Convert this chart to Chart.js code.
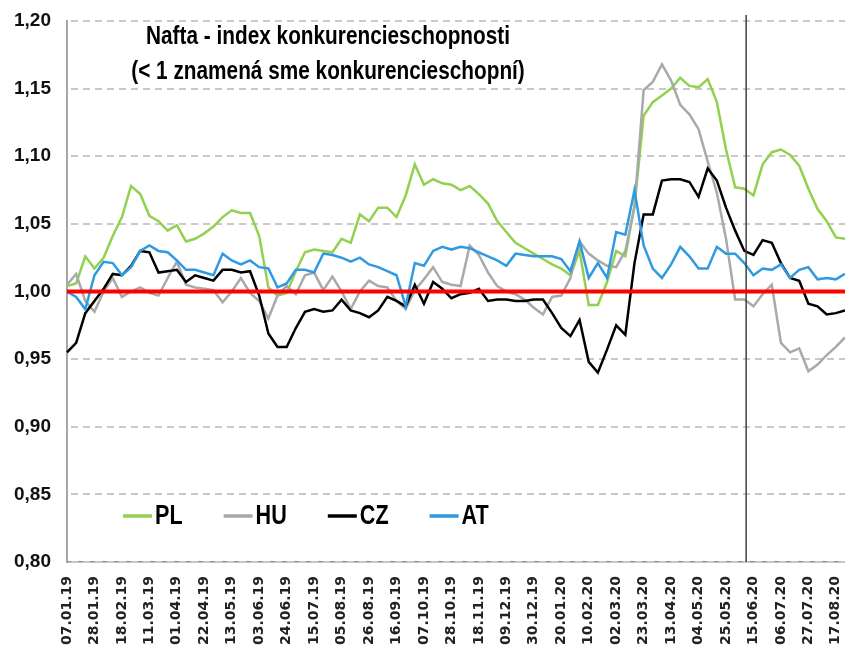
<!DOCTYPE html>
<html>
<head>
<meta charset="utf-8">
<title>Nafta - index konkurencieschopnosti</title>
<script src="https://cdn.jsdelivr.net/npm/chart.js@4.4.0/dist/chart.umd.min.js"></script>
<style>
  html, body { margin: 0; padding: 0; background: #fff; }
  #wrap { width: 845px; height: 649px; position: relative; }
</style>
</head>
<body>
<div id="wrap"><canvas id="myChart"></canvas></div>
<script>
// Weekly dates (every 3rd one is printed on the axis)
const weeks = [
  '07.01.19','14.01.19','21.01.19','28.01.19','04.02.19','11.02.19','18.02.19','25.02.19',
  '04.03.19','11.03.19','18.03.19','25.03.19','01.04.19','08.04.19','15.04.19','22.04.19',
  '29.04.19','06.05.19','13.05.19','20.05.19','27.05.19','03.06.19','10.06.19','17.06.19',
  '24.06.19','01.07.19','08.07.19','15.07.19','22.07.19','29.07.19','05.08.19','12.08.19',
  '19.08.19','26.08.19','02.09.19','09.09.19','16.09.19','23.09.19','30.09.19','07.10.19',
  '14.10.19','21.10.19','28.10.19','04.11.19','11.11.19','18.11.19','25.11.19','02.12.19',
  '09.12.19','16.12.19','23.12.19','30.12.19','06.01.20','13.01.20','20.01.20','27.01.20',
  '03.02.20','10.02.20','17.02.20','24.02.20','02.03.20','09.03.20','16.03.20','23.03.20',
  '30.03.20','06.04.20','13.04.20','20.04.20','27.04.20','04.05.20','11.05.20','18.05.20',
  '25.05.20','01.06.20','08.06.20','15.06.20','22.06.20','29.06.20','06.07.20','13.07.20',
  '20.07.20','27.07.20','03.08.20','10.08.20','17.08.20','24.08.20'
];

const seriesNames = ['PL', 'HU', 'CZ', 'AT'];

const pl = [
  1.004,1.006,1.026,1.017,1.025,1.041,1.055,1.078,1.072,1.056,
  1.052,1.045,1.049,1.037,1.039,1.043,1.048,1.055,1.060,1.058,
  1.058,1.041,1.003,0.997,0.999,1.015,1.029,1.031,1.030,1.029,
  1.039,1.036,1.057,1.052,1.062,1.062,1.055,1.071,1.094,1.079,
  1.083,1.080,1.079,1.075,1.078,1.072,1.065,1.052,1.044,1.036,
  1.032,1.028,1.024,1.020,1.017,1.012,1.030,0.990,0.990,1.007,
  1.030,1.026,1.063,1.130,1.140,1.145,1.150,1.158,1.152,1.151,
  1.157,1.140,1.105,1.077,1.076,1.071,1.094,1.103,1.105,1.101,
  1.093,1.076,1.061,1.052,1.040,1.039
];

const hu = [
  1.005,1.013,0.993,0.985,1.000,1.010,0.996,1.000,1.003,0.999,
  0.997,1.010,1.022,1.005,1.003,1.002,1.001,0.992,1.000,1.010,
  0.999,0.993,0.980,0.997,1.004,0.998,1.012,1.014,1.001,1.011,
  1.000,0.987,1.000,1.008,1.004,1.003,0.993,0.987,1.001,1.009,
  1.018,1.007,1.005,1.004,1.034,1.027,1.014,1.004,1.000,0.998,
  0.994,0.988,0.983,0.996,0.997,1.010,1.037,1.028,1.023,1.019,
  1.018,1.030,1.063,1.149,1.155,1.168,1.156,1.138,1.131,1.120,
  1.096,1.073,1.039,0.994,0.994,0.989,0.998,1.005,0.962,0.955,
  0.958,0.941,0.946,0.953,0.959,0.966
];

const cz = [
  0.955,0.962,0.984,0.993,1.002,1.013,1.012,1.019,1.030,1.029,
  1.014,1.015,1.016,1.007,1.012,1.010,1.008,1.016,1.016,1.014,
  1.015,0.997,0.969,0.959,0.959,0.973,0.985,0.987,0.985,0.986,
  0.994,0.986,0.984,0.981,0.986,0.996,0.993,0.989,1.005,0.991,
  1.007,1.002,0.995,0.998,0.999,1.002,0.993,0.994,0.994,0.993,
  0.993,0.994,0.994,0.984,0.973,0.967,0.979,0.948,0.940,0.957,
  0.975,0.968,1.021,1.057,1.057,1.082,1.083,1.083,1.081,1.070,
  1.091,1.082,1.062,1.045,1.030,1.027,1.038,1.036,1.021,1.010,
  1.008,0.991,0.989,0.983,0.984,0.986
];

const at = [
  1.000,0.996,0.987,1.012,1.022,1.021,1.012,1.018,1.030,1.034,
  1.030,1.029,1.023,1.016,1.016,1.014,1.012,1.028,1.023,1.020,
  1.023,1.018,1.017,1.003,1.006,1.016,1.016,1.014,1.028,1.027,
  1.025,1.022,1.025,1.020,1.018,1.015,1.012,0.989,1.021,1.019,
  1.030,1.033,1.031,1.033,1.032,1.029,1.026,1.023,1.019,1.028,
  1.027,1.026,1.026,1.026,1.024,1.015,1.037,1.010,1.021,1.010,
  1.044,1.042,1.075,1.034,1.017,1.010,1.020,1.033,1.026,1.017,
  1.017,1.033,1.028,1.028,1.021,1.012,1.017,1.016,1.020,1.010,
  1.016,1.018,1.009,1.010,1.009,1.013
];

const yTicks = [0.80, 0.85, 0.90, 0.95, 1.00, 1.05, 1.10, 1.15, 1.20];
const parity = 1.00;       // red line: < 1 means competitive
const markerIndex = 74.2;  // vertical divider (between 08.06.20 and 15.06.20)
const titleLines = ['Nafta - index konkurencieschopnosti', '(< 1 znamená sme konkurencieschopní)'];

const colors = ['#92d050', '#a9a9a9', '#000000', '#2f9ae0'];

// Dashed horizontal grid, drawn from the y scale ticks (dash by dash)
const dashedGrid = {
  id: 'dashedGrid',
  beforeDatasetsDraw(chart) {
    const ctx = chart.ctx;
    const area = chart.chartArea;
    const y = chart.scales.y;
    ctx.save();
    ctx.fillStyle = '#c8c8c8';
    y.ticks.forEach(t => {
      const py = Math.round(y.getPixelForValue(t.value)) - 1;
      for (let x = area.left + 4; x < area.right; x += 12) {
        ctx.fillRect(x, py, Math.min(7, area.right - x), 2);
      }
    });
    ctx.restore();
  }
};

// Red parity line, vertical divider, title and legend
const overlay = {
  id: 'overlay',
  afterDatasetsDraw(chart) {
    const ctx = chart.ctx;
    const area = chart.chartArea;
    const mx = chart.scales.x.getPixelForValue(markerIndex);
    const py = chart.scales.y.getPixelForValue(parity);
    ctx.save();
    ctx.strokeStyle = '#404040';
    ctx.lineWidth = 1.5;
    ctx.beginPath();
    ctx.moveTo(mx, area.top - 6);
    ctx.lineTo(mx, area.bottom);
    ctx.stroke();

    ctx.strokeStyle = '#ff0000';
    ctx.lineWidth = 4;
    ctx.beginPath();
    ctx.moveTo(area.left, py);
    ctx.lineTo(area.right, py);
    ctx.stroke();
    ctx.restore();
  },
  afterDraw(chart) {
    const ctx = chart.ctx;
    ctx.save();
    ctx.fillStyle = '#000';
    ctx.textBaseline = 'middle';

    // Title (narrow bold)
    ctx.font = 'bold 26px "Liberation Sans", Arial, sans-serif';
    ctx.textAlign = 'center';
    titleLines.forEach((t, i) => {
      ctx.save();
      ctx.translate(328, 37 + i * 35);
      ctx.scale(0.8, 1);
      ctx.fillText(t, 0, 0);
      ctx.restore();
    });

    // Legend
    ctx.font = 'bold 27px "Liberation Sans", Arial, sans-serif';
    ctx.textAlign = 'left';
    let x = 123;
    const ly = 516;
    chart.data.datasets.forEach(ds => {
      ctx.strokeStyle = ds.borderColor;
      ctx.lineWidth = 3.5;
      ctx.beginPath();
      ctx.moveTo(x, ly);
      ctx.lineTo(x + 29, ly);
      ctx.stroke();
      const w = ctx.measureText(ds.label).width * 0.8;
      ctx.save();
      ctx.translate(x + 32, ly + 1);
      ctx.scale(0.8, 1);
      ctx.fillStyle = '#000';
      ctx.fillText(ds.label, 0, 0);
      ctx.restore();
      x += 32 + w + 41;
    });
    ctx.restore();
  }
};

const allSeries = [pl, hu, cz, at];

var ctx = document.getElementById('myChart');

var myChart = new Chart(ctx, {
  type: 'line',
  data: {
    labels: weeks,
    datasets: seriesNames.map((name, i) => ({
      label: name,
      data: allSeries[i],
      borderColor: colors[i],
      backgroundColor: colors[i],
      borderWidth: 2.5,
      pointRadius: 0,
      tension: 0,
      fill: false,
      order: 4 - i   // later series drawn on top, like Excel
    }))
  },
  options: {
    responsive: true,
    maintainAspectRatio: false,
    animation: false,
    devicePixelRatio: 1,
    layout: { padding: { top: 21, left: 0, right: 0, bottom: 0 } },
    plugins: {
      legend: { display: false },
      title: { display: false },
      tooltip: { enabled: false }
    },
    scales: {
      x: {
        grid: { display: false, drawTicks: false },
        border: { display: true, color: '#8c8c8c', width: 1.5 },
        ticks: {
          autoSkip: false,
          minRotation: 90,
          maxRotation: 90,
          padding: 14,
          color: '#222',
          font: { family: '"DejaVu Sans", sans-serif', weight: 'bold', size: 14 },
          callback: (val, idx) => (idx % 3 === 0 ? weeks[idx] : '')
        },
        afterFit(scale) {
          scale.height = 87;
          scale.paddingLeft = 0;
          scale.paddingRight = 0;
        }
      },
      y: {
        min: yTicks[0],
        max: yTicks[yTicks.length - 1],
        afterBuildTicks(scale) {
          scale.ticks = yTicks.map(v => ({ value: v }));
        },
        grid: { display: false, drawTicks: false },
        border: { display: true, color: '#a6a6a6', width: 2 },
        ticks: {
          padding: 16,
          color: '#111',
          font: { family: '"Liberation Sans", Arial, sans-serif', weight: 'bold', size: 19 },
          callback: v => v.toFixed(2).replace('.', ',')
        },
        afterFit(scale) {
          scale.width = 67;
          scale.paddingTop = 0;
          scale.paddingBottom = 0;
        }
      }
    }
  },
  plugins: [dashedGrid, overlay]
});
</script>
</body>
</html>
